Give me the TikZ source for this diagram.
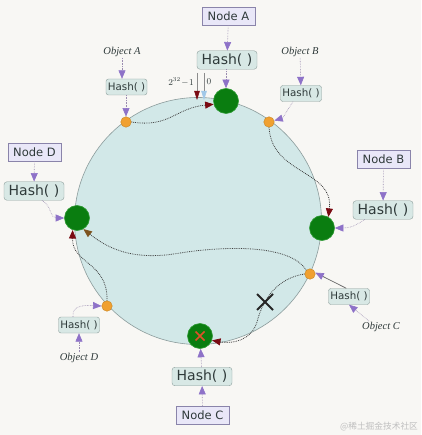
\documentclass[tikz,border=0pt]{standalone}
\usepackage{fontspec}
\setmainfont{DejaVu Sans}
\newfontfamily\objfont{Liberation Serif}
\newfontfamily\cjkfont{Noto Sans CJK SC}
\usetikzlibrary{arrows.meta}
\definecolor{bg}{HTML}{F8F7F4}
\definecolor{ringfill}{HTML}{D2E8E8}
\definecolor{ringline}{HTML}{8C9C9C}
\definecolor{nodefill}{HTML}{E9E7F8}
\definecolor{nodeline}{HTML}{8A84AA}
\definecolor{hashfill}{HTML}{D8E8E5}
\definecolor{hashline}{HTML}{8C9E9B}
\definecolor{srvgreen}{HTML}{0A7D10}
\definecolor{srvedge}{HTML}{2E9A34}
\definecolor{objorange}{HTML}{F0A030}
\definecolor{objedge}{HTML}{C88420}
\definecolor{arrowpurple}{HTML}{8E72C8}
\definecolor{feedline}{HTML}{9A8CB0}
\definecolor{headred}{HTML}{7A0A12}
\definecolor{headbrown}{HTML}{7E5420}
\definecolor{headblue}{HTML}{A0C8E8}
\definecolor{textgray}{HTML}{2F3A3A}
\definecolor{markred}{HTML}{E0502A}
\begin{document}
\begin{tikzpicture}[x=1pt,y=-1pt,
  nodebox/.style={draw=nodeline, fill=nodefill, minimum height=18pt, minimum width=53pt, inner xsep=4pt, inner ysep=0pt, text=textgray, font=\fontsize{11.5}{12}\selectfont},
  hashbig/.style={draw=hashline, fill=hashfill, rounded corners=3pt, minimum height=18.5pt, minimum width=60pt, inner xsep=2pt, inner ysep=0pt, text=textgray, font=\fontsize{14}{15}\selectfont},
  hashsmall/.style={draw=hashline, fill=hashfill, rounded corners=2.5pt, minimum height=16pt, minimum width=41pt, inner xsep=1.5pt, inner ysep=0pt, text=textgray, font=\fontsize{10.3}{11}\selectfont},
  server/.style={circle, fill=srvgreen, draw=srvedge, line width=0.6pt, minimum size=25pt, inner sep=0pt},
  objdot/.style={circle, fill=objorange, draw=objedge, line width=0.4pt, minimum size=10.5pt, inner sep=0pt},
  objlabel/.style={inner sep=1pt, text=textgray, font=\objfont\itshape\fontsize{10.5}{11}\selectfont},
  feed/.style={draw=feedline, densely dotted, line width=0.6pt, -{Triangle[length=8.5pt,width=7pt,color=arrowpurple]}},
  feedsolid/.style={draw=black!60, line width=0.7pt, -{Triangle[length=8.5pt,width=7pt,color=arrowpurple]}},
  walk/.style={draw=black!75, densely dotted, line width=0.8pt, -{Triangle[length=8.5pt,width=7pt,color=headred]}},
  marker/.style={draw=black!45, line width=0.5pt}
]
\useasboundingbox (0,0) rectangle (421,435);
\fill[bg] (0,0) rectangle (421,435);
% ring
\draw[ringline, fill=ringfill, line width=0.6pt] (198,221) circle[radius=123.5pt];

% top markers
\coordinate (mk1a) at (197,73);
\coordinate (mk1b) at (197,100);
\coordinate (mk2a) at (204,73);
\coordinate (mk2b) at (204,100);
\draw[marker, -{Triangle[length=9pt,width=5.5pt,color=headred]}] (mk1a) -- (mk1b);
\draw[marker, -{Triangle[length=9pt,width=5.5pt,color=headblue]}] (mk2a) -- (mk2b);
\node[text=textgray, font=\fontsize{9}{10}\selectfont, inner sep=0pt] (lmax) at (181,82) {$2^{32}\!-\!1$};
\node[text=textgray, font=\fontsize{9}{10}\selectfont, inner sep=0pt] (lzero) at (209,82) {$0$};

% servers
\node[server] (srvA) at (226,101) {};
\node[server] (srvB) at (322,228) {};
\node[server] (srvC) at (200,336) {};
\node[server] (srvD) at (77,218) {};
\draw[markred, line width=1.6pt] (195.5,331.5) -- (204.5,340.5) (195.5,340.5) -- (204.5,331.5);

% objects
\node[objdot] (dA) at (126,122) {};
\node[objdot] (dB) at (269,122) {};
\node[objdot] (dC) at (310,274) {};
\node[objdot] (dD) at (107,306) {};

% node boxes
\node[nodebox] (nA) at (228.5,16) {Node A};
\node[nodebox] (nB) at (383.5,159) {Node B};
\node[nodebox] (nC) at (202.5,415) {Node C};
\node[nodebox] (nD) at (34.5,152) {Node D};

% big hashes
\node[hashbig] (hA) at (227,60) {Hash( )};
\node[hashbig] (hB) at (383,210) {Hash( )};
\node[hashbig] (hC) at (202,376.5) {Hash( )};
\node[hashbig] (hD) at (34,191) {Hash( )};

% object labels and small hashes
\node[objlabel] (oA) at (122,52) {Object A};
\node[objlabel] (oB) at (300,52) {Object B};
\node[objlabel] (oC) at (381,327) {Object C};
\node[objlabel] (oD) at (79,358) {Object D};
\node[hashsmall] (sA) at (126.5,87) {Hash( )};
\node[hashsmall] (sB) at (301,93.5) {Hash( )};
\node[hashsmall] (sC) at (349,296.5) {Hash( )};
\node[hashsmall] (sD) at (79,325) {Hash( )};

% feed arrows
\draw[feed] (nA) -- (hA);
\draw[feed] (hA.south -| srvA) -- (srvA);
\draw[feed] (nB) -- (hB);
\draw[feed] (hB.south west) ++(12,0) .. controls (355,226) and (350,228) .. (srvB.east);
\draw[feed] (nC) -- (hC);
\draw[feed] (hC) -- (srvC);
\draw[feed] (nD) -- (hD);
\draw[feed] (hD.south) ++(8,0) .. controls (52,206) and (50,218) .. (srvD.west);
\draw[feed] (oA) -- (sA.north -| oA);
\draw[feed] (sA.south -| dA) -- (dA);
\draw[feed] (oB) -- (sB);
\draw[feed] (sB.south) ++(-8,0) .. controls (286,112) and (283,118) .. (dB.15);
\draw[feed] (oC.north west) ++(8,0) -- (sC.south);
\draw[feedsolid] (sC.north west) ++(18,0) -- (dC.15);
\draw[feed] (oD) -- (sD);
\draw[feed] (sD.north) ++(-6,0) .. controls (72,306) and (82,305) .. (dD.west);

% walks on the ring
\draw[walk] (dA.east) .. controls (170,128) and (175,108) .. (srvA.195);
\draw[walk] (dB.south) .. controls (272,175) and (334,170) .. (srvB.60);
\draw[walk, -{Triangle[length=8.5pt,width=7pt,color=headbrown]}] (dC.north west) .. controls (290,244) and (225,246) .. (180,253) .. controls (130,262) and (105,246) .. (srvD.-60);
\draw[walk] (dD.north) .. controls (108,262) and (72,264) .. (srvD.250);
\draw[walk] (dC.west) .. controls (278,278) and (263,298) .. (257,322) .. controls (251,341) and (232,344) .. (srvC.-20);

% removed path mark
\draw[black!85, line width=2pt] (257,294) -- (273,310) (257,310) -- (273,294);

% watermark
\node[text=black!25, font=\cjkfont\fontsize{8.7}{9}\selectfont, inner sep=0pt] (wm) at (379,427) {@稀土掘金技术社区};
\end{tikzpicture}
\end{document}
